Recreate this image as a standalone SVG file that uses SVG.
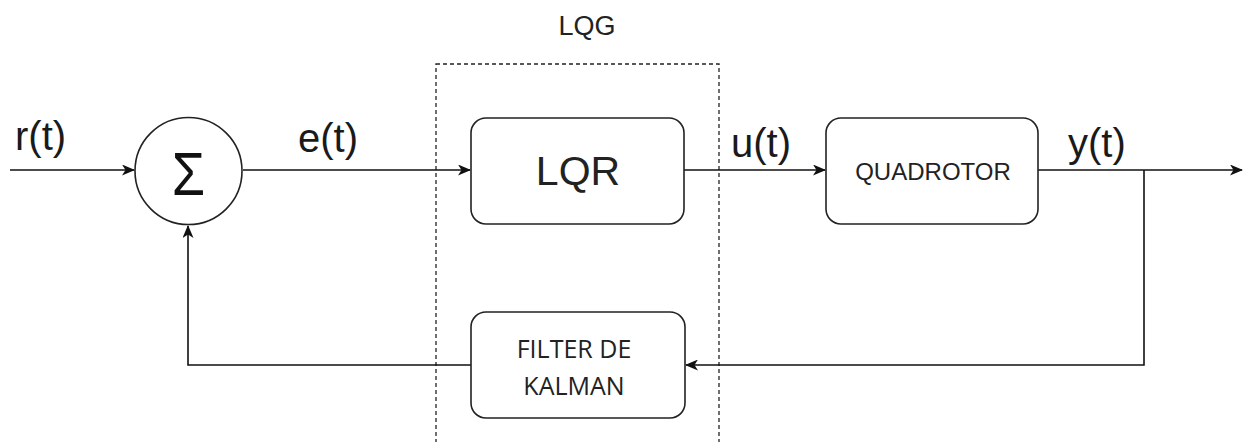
<svg xmlns="http://www.w3.org/2000/svg" width="1249" height="442" viewBox="0 0 1249 442">
  <style>
    .box { fill: #ffffff; stroke: #222222; stroke-width: 1.6; }
    .wire { fill: none; stroke: #111111; stroke-width: 1.6; }
    .sig { font-family: "Liberation Sans", Arial, sans-serif; font-size: 40px; fill: #1a1a1a; }
    .lbl { font-family: "Liberation Sans", Arial, sans-serif; fill: #222222; text-anchor: middle; }
    .kal { font-family: "Open Sans", "Noto Sans", sans-serif; font-size: 25px; fill: #222222; text-anchor: middle; }
  </style>
  <defs>
    <marker id="arrow" viewBox="0 0 13 11" refX="12" refY="5.5" markerWidth="13" markerHeight="11" markerUnits="userSpaceOnUse" orient="auto">
      <path d="M0,0 L13,5.5 L0,11 L3.5,5.5 Z" fill="#111111"/>
    </marker>
  </defs>
  <rect width="1249" height="442" fill="#ffffff"/>

  <!-- LQG grouping frame -->
  <g id="lqg">
    <rect x="436" y="64" width="283" height="400" fill="none" stroke="#222222" stroke-width="1.3" stroke-dasharray="4 3"/>
    <text class="lbl" x="587" y="35" font-size="27">LQG</text>
  </g>

  <!-- connectors -->
  <g id="connectors">
    <line class="wire" x1="10" y1="170" x2="134" y2="170" marker-end="url(#arrow)"/>
    <line class="wire" x1="243" y1="170" x2="470" y2="170" marker-end="url(#arrow)"/>
    <line class="wire" x1="684" y1="170" x2="825" y2="170" marker-end="url(#arrow)"/>
    <line class="wire" x1="1038" y1="170" x2="1242" y2="170" marker-end="url(#arrow)"/>
    <polyline class="wire" points="1144,170 1144,365 686,365" marker-end="url(#arrow)"/>
    <polyline class="wire" points="471,365 188,365 188,226" marker-end="url(#arrow)"/>
    <text class="sig" x="15" y="150">r(t)</text>
    <text class="sig" x="298" y="152">e(t)</text>
    <text class="sig" x="731" y="157">u(t)</text>
    <text class="sig" x="1068" y="157">y(t)</text>
  </g>

  <g id="sum">
    <circle class="box" cx="188.5" cy="171" r="53.5"/>
    <text transform="translate(188.5 195) scale(0.87 1)" font-family="Liberation Sans, Arial, sans-serif" font-size="62" text-anchor="middle" fill="#111111">Σ</text>
  </g>

  <g id="lqr">
    <rect class="box" x="471" y="118" width="213" height="106" rx="15"/>
    <text class="lbl" x="578" y="185" font-size="41">LQR</text>
  </g>

  <g id="quadrotor">
    <rect class="box" x="826" y="118" width="212" height="106" rx="15"/>
    <text class="lbl" x="933" y="180" font-size="24">QUADROTOR</text>
  </g>

  <g id="kalman">
    <rect class="box" x="471" y="312" width="214" height="106" rx="15"/>
    <text class="kal" x="574" y="358">FILTER DE</text>
    <text class="kal" x="574" y="395">KALMAN</text>
  </g>
</svg>
